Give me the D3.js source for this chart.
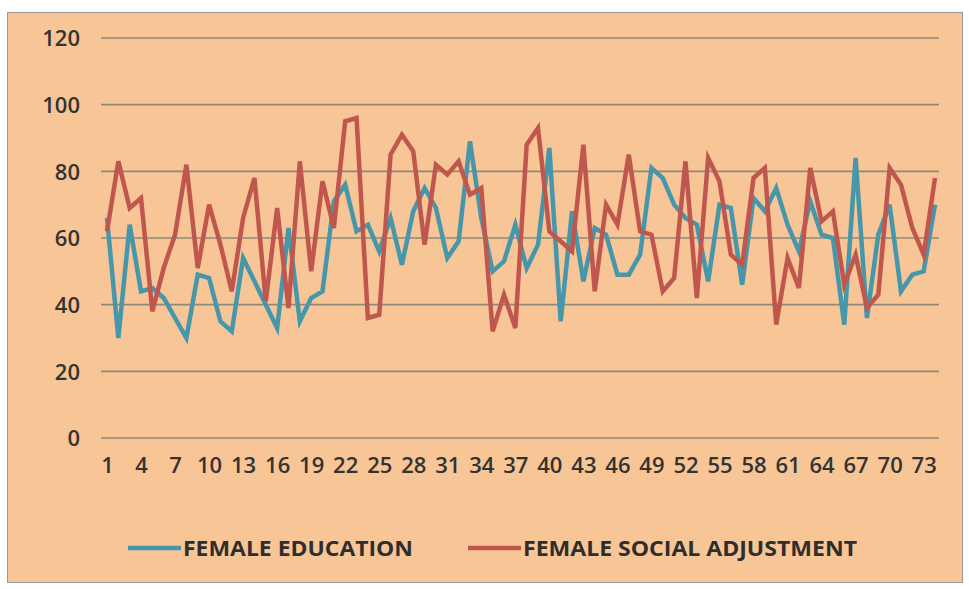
<!DOCTYPE html>
<html><head><meta charset="utf-8">
<script src="https://cdn.jsdelivr.net/npm/d3@7"></script>
<style>html,body{margin:0;padding:0;background:#fff;}svg{display:block;}</style>
</head><body>
<svg id="c" width="969" height="589"></svg>
<script>
const categories = d3.range(1, 75);
const femaleEducation = [66,30,64,44,45,42,36,30,49,48,35,32,54,47,40,33,63,35,42,44,71,76,62,64,56,66,52,68,75,69,54,59,89,66,50,53,64,51,58,87,35,68,47,63,61,49,49,55,81,78,70,66,64,47,70,69,46,72,68,75,64,56,71,61,60,34,84,36,61,70,44,49,50,70];
const femaleSocialAdjustment = [62,83,69,72,38,51,61,82,51,70,58,44,66,78,41,69,39,83,50,77,63,95,96,36,37,85,91,86,58,82,79,83,73,75,32,43,33,88,93,62,59,56,88,44,70,64,85,62,61,44,48,83,42,84,77,55,52,78,81,34,54,45,81,65,68,46,55,39,43,81,76,63,55,78];
const yTicks = [0,20,40,60,80,100,120];
const xTickLabels = categories.filter((d,i) => i % 3 === 0);
const seriesNames = ["FEMALE EDUCATION", "FEMALE SOCIAL ADJUSTMENT"];
const colors = ["#4797AB", "#C0574F"];

const svg = d3.select("#c");
svg.append("rect").attr("x",7.5).attr("y",12.5).attr("width",955).attr("height",570)
  .attr("fill","#F8C597").attr("stroke","#9a9a9a").attr("stroke-width",1);

const x = d3.scalePoint().domain(categories).range([107, 935]);
const y = d3.scaleLinear().domain([0,120]).range([438, 38]);

const fontFam = "'Liberation Sans Narrow', 'Open Sans', sans-serif";

// gridlines
svg.append("g").selectAll("line").data(yTicks).join("line")
  .attr("x1",101).attr("x2",939)
  .attr("y1",d=>y(d)).attr("y2",d=>y(d))
  .attr("stroke","#8f8a78").attr("stroke-width",1.6);

// y labels
const yAxis = d3.axisLeft(y).tickValues(yTicks).tickSize(0).tickPadding(0);
const gy = svg.append("g").attr("transform","translate(80,0)").call(yAxis);
gy.select(".domain").remove();
gy.selectAll("text").attr("font-family",fontFam).attr("font-size",22).attr("font-weight",600)
  .attr("fill","#333").attr("dy","0.35em");

// x labels
const xAxis = d3.axisBottom(x).tickValues(xTickLabels).tickSize(0).tickPadding(0);
const gx = svg.append("g").attr("transform","translate(0,473)").call(xAxis);
gx.select(".domain").remove();
gx.selectAll("text").attr("font-family",fontFam).attr("font-size",22).attr("font-weight",600)
  .attr("fill","#333").attr("dy","0");

const line = d3.line().x((d,i)=>x(categories[i])).y(d=>y(d));
[femaleEducation, femaleSocialAdjustment].forEach((s,k)=>{
  svg.append("path").datum(s).attr("d",line).attr("fill","none")
    .attr("stroke",colors[k]).attr("stroke-width",4.5)
    .attr("stroke-linejoin","miter").attr("stroke-linecap","butt");
});

// legend
const legendX = [128, 468];
const legendW = [230, 334];
seriesNames.forEach((n,k)=>{
  const g = svg.append("g");
  g.append("line").attr("x1",legendX[k]).attr("x2",legendX[k]+53).attr("y1",548).attr("y2",548)
    .attr("stroke",colors[k]).attr("stroke-width",4.5);
  g.append("text").attr("x",legendX[k]+55).attr("y",556).text(n)
    .attr("font-family",fontFam).attr("font-weight","bold").attr("font-size",22)
    .attr("fill","#2e2e2e").attr("textLength",legendW[k]).attr("lengthAdjust","spacingAndGlyphs");
});
</script>
</body></html>
